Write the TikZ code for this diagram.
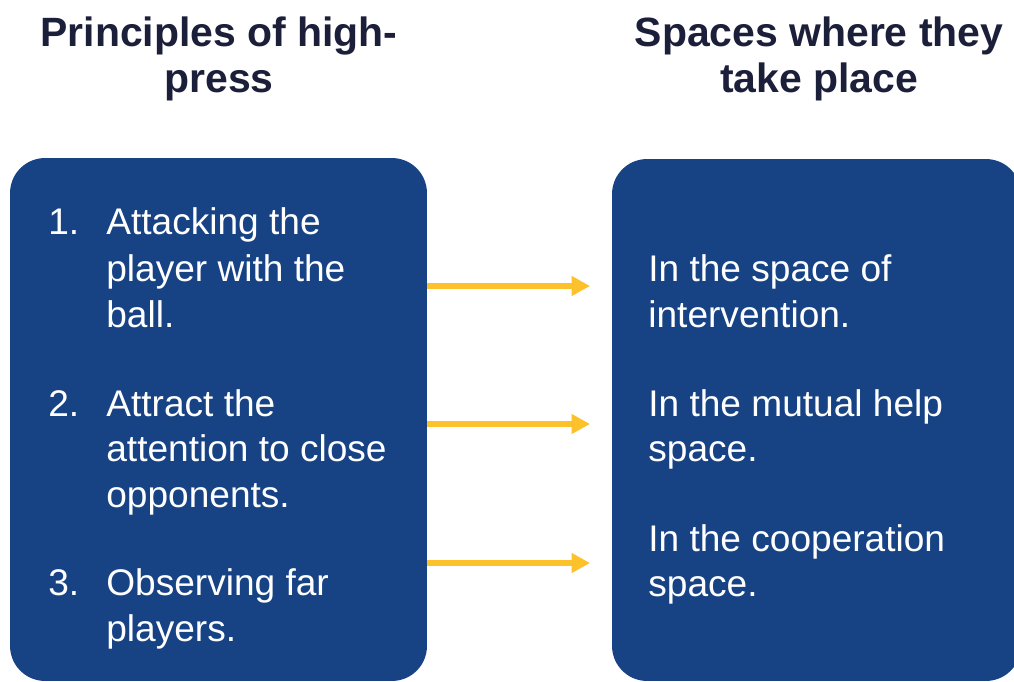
\documentclass[tikz,border=0pt]{standalone}
\usepackage{fontspec}
\setmainfont{Liberation Sans}
\usetikzlibrary{arrows.meta}
\definecolor{panelblue}{HTML}{174385}
\definecolor{titleink}{HTML}{1C1F3A}
\definecolor{arrowgold}{HTML}{FDC12C}

\begin{document}
\begin{tikzpicture}[x=0.02cm,y=-0.02cm]
\tikzstyle{panel}=[rectangle,fill=panelblue,rounded corners=0.7cm,inner sep=0pt]
\tikzstyle{heading}=[text=titleink,font=\fontsize{23.3}{26}\selectfont\bfseries,inner sep=0pt,anchor=base]
\tikzstyle{item}=[text=white,font=\fontsize{21.1}{26}\selectfont,inner sep=0pt,anchor=base west]
\tikzstyle{flow}=[arrowgold,line width=0.12cm,-{Triangle[length=0.37cm,width=0.38cm]}]
\useasboundingbox (0,0) rectangle (1014,682);
% panels
\node[panel,minimum width=8.34cm,minimum height=10.46cm] (principles) at (218.5,419.5) {};
\node[panel,minimum width=8.18cm,minimum height=10.44cm] (spaces) at (816.5,420) {};
% headings
\foreach \name/\px/\py/\txt in {
	h1/219/47/{Principles of high-},
	h2/219/93/{press},
	h3/819/47/{Spaces where they},
	h4/819/93/{take place}}
	\node[heading] (\name) at (\px,\py) {\txt};
% principles, line by line
\foreach \name/\px/\py/\txt in {
	n1/48/235/{1.},
	a1/106/235/{Attacking the},
	a2/106/281/{player with the},
	a3/106/327/{ball.},
	n2/48/416/{2.},
	b1/106/416/{Attract the},
	b2/106/461/{attention to close},
	b3/106/507/{opponents.},
	n3/48/595/{3.},
	c1/106/595/{Observing far},
	c2/106/641/{players.}}
	\node[item] (\name) at (\px,\py) {\txt};
% spaces, line by line
\foreach \name/\px/\py/\txt in {
	r1/648/281/{In the space of},
	r2/648/327/{intervention.},
	r3/648/416/{In the mutual help},
	r4/648/461/{space.},
	r5/648/551/{In the cooperation},
	r6/648/596/{space.}}
	\node[item] (\name) at (\px,\py) {\txt};
% arrows
\foreach \i/\py in {1/286,2/424,3/563} {
	\coordinate (tip\i) at (590,\py);
	\draw[flow] (principles.east |- tip\i) -- (tip\i);
}
\end{tikzpicture}
\end{document}
